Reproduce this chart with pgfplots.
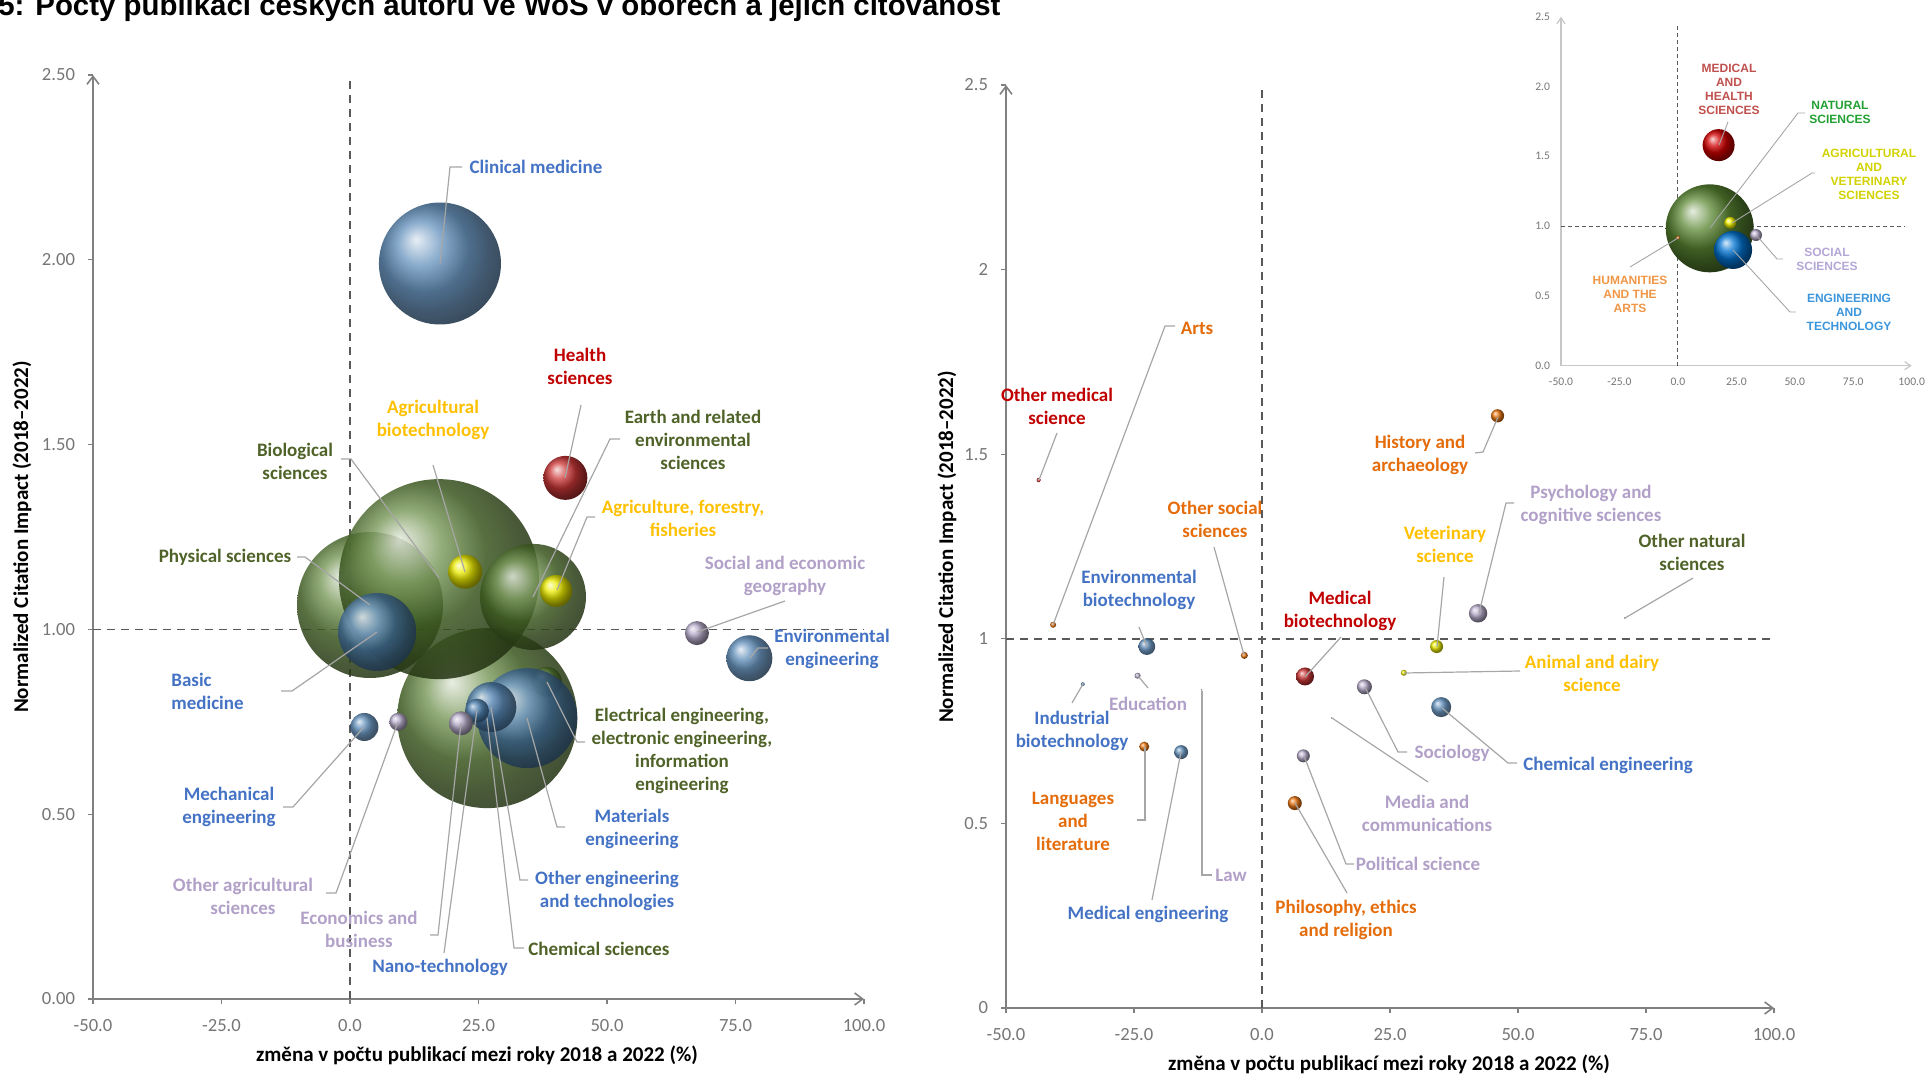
\documentclass[border=0pt]{standalone}
\usepackage{pgfplots}
\pgfplotsset{compat=1.18}
\usepackage{pgfplotstable}
\usepackage{fontspec}
\setmainfont{Carlito}
\newfontfamily\arialfont{Liberation Sans}
\usetikzlibrary{arrows.meta}

\definecolor{lgreen}{RGB}{79,98,40}
\definecolor{lblue}{RGB}{68,114,196}
\definecolor{lyellow}{RGB}{255,192,0}
\definecolor{lred}{RGB}{192,0,0}
\definecolor{lpurple}{RGB}{177,160,199}
\definecolor{lorange}{RGB}{228,108,10}
\definecolor{axisgray}{RGB}{128,128,128}
\definecolor{tickgray}{RGB}{118,118,118}
\definecolor{leader}{RGB}{166,166,166}
\definecolor{dashgray}{RGB}{89,89,89}
\definecolor{bgreen}{RGB}{84,124,44}
\definecolor{bblue}{RGB}{76,128,178}
\definecolor{byellow}{RGB}{235,235,0}
\definecolor{bred}{RGB}{205,55,55}
\definecolor{bpurple}{RGB}{185,175,205}
\definecolor{borange}{RGB}{232,118,20}
\definecolor{igreen}{RGB}{90,135,50}
\definecolor{ired}{RGB}{210,0,0}
\definecolor{iblue}{RGB}{0,115,210}
\definecolor{iyellow}{RGB}{245,245,0}

\newcommand\defball[3]{\pgfdeclareplotmark{#1}{\shade[ball color=#2,opacity=#3,draw=none] (0pt,0pt) circle[radius=\pgfplotmarksize];}}
\defball{ballgreen}{bgreen}{0.85}
\defball{ballblue}{bblue}{0.88}
\defball{ballyellow}{byellow}{1}
\defball{ballred}{bred}{1}
\defball{ballpurple}{bpurple}{1}
\defball{ballorange}{borange}{1}
\defball{ballgray}{leader}{1}
\defball{iballgreen}{igreen}{1}
\defball{iballred}{ired}{1}
\defball{iballblue}{iblue}{1}
\defball{iballyellow}{iyellow}{1}

% ---------- data: x = change (%), y = NCI, r = bubble radius (pt)
\pgfplotstableread{
name x y r
Chemical 26.7 0.760 45
Physical 3.9 1.066 36.5
Biological 17.3 1.136 50
Earth 35.6 1.088 26.5
Electrical 38.3 0.858 7.5
}\Lgreen
\pgfplotstableread{
name x y r
BasicMedicine 5.3 0.993 19.5
Materials 34.5 0.760 25
OtherEng 27.5 0.790 12.5
Nano 24.7 0.780 6
Mechanical 2.8 0.736 7
EnvEng 77.7 0.922 11.5
Clinical 17.5 1.990 30.5
}\Lblue
\pgfplotstableread{
name x y r
AgriBiotech 22.4 1.156 8.5
AgriForestry 40.1 1.104 8
}\Lyellow
\pgfplotstableread{
name x y r
Health 41.9 1.410 11
}\Lred
\pgfplotstableread{
name x y r
OtherAgri 9.4 0.750 4.5
Economics 21.6 0.746 6
SocGeog 67.5 0.990 6
}\Lpurple

\pgfplotstableread{
name x y r
Arts -40.8 1.038 1.5
OtherSocial -3.45 0.955 1.75
Languages -23.0 0.708 2.5
Philosophy 6.4 0.555 3.5
History 46.0 1.604 3.3
}\Rorange
\pgfplotstableread{
name x y r
OtherMedical -43.6 1.430 1.1
MedBiotech 8.4 0.898 4.5
}\Rred
\pgfplotstableread{
name x y r
EnvBiotech -22.5 0.979 4.2
Industrial -35.0 0.877 1
MedEng -15.8 0.693 3.5
ChemEng 35.0 0.815 5
}\Rblue
\pgfplotstableread{
name x y r
Education -24.3 0.900 1.5
Sociology 20.0 0.870 3.75
Political 8.07 0.683 3.25
Psychology 42.2 1.069 4.6
}\Rpurple
\pgfplotstableread{
name x y r
Law -11.8 0.861 0.4
Media 13.6 0.785 0.4
OtherNatural 70.9 1.056 0.5
}\Rgray
\pgfplotstableread{
name x y r
Veterinary 34.1 0.979 3.25
Animal 27.7 0.908 1.5
}\Ryellow

\pgfplotstableread{
name x y r
Natural 13.6 0.984 22
}\Igreen
\pgfplotstableread{
name x y r
Medical 17.4 1.580 8
}\Ired
\pgfplotstableread{
name x y r
Engineering 23.6 0.829 9.5
}\Iblue
\pgfplotstableread{
name x y r
Agricultural 22.4 1.024 3
}\Iyellow
\pgfplotstableread{
name x y r
Social 33.4 0.936 3
}\Ipurple
\pgfplotstableread{
name x y r
Humanities 0.0 0.917 1
}\Iorange

\pgfplotsset{
 mainaxis/.style={
  scale only axis, axis lines=left, clip=false,
  xmin=-50, xmax=100, ymin=0, ymax=2.5,
  axis line style={draw=axisgray, line width=0.8pt, -{Straight Barb[length=4pt,width=6pt]}},
  xtick={-50,-25,0,25,50,75,100},
  xticklabels={-50.0,-25.0,0.0,25.0,50.0,75.0,100.0},
  ytick={0,0.5,1,1.5,2,2.5},
  tick style={draw=axisgray, line width=0.6pt},
  tick align=outside, major tick length=2.5pt,
  ticklabel style={font=\fontsize{9.3}{10}\selectfont, text=tickgray},
  xticklabel style={yshift=-4pt},
  yticklabel style={xshift=-3pt},
 },
 refline/.style={dashgray, line width=0.8pt, dash pattern=on 4pt off 3pt, forget plot},
 bubbles/.style={scatter, only marks, forget plot,
  scatter/use mapped color={draw=none, fill=none},
  visualization depends on={\thisrow{r}\as\perpointmarksize},
  scatter/@pre marker code/.append style={/tikz/mark size=\perpointmarksize}},
}

\tikzset{
 lab/.style={font=\bfseries\fontsize{9.5}{11.5}\selectfont, align=center, inner sep=0pt},
 ilab/.style={font=\arialfont\bfseries\fontsize{6}{7}\selectfont, align=center, inner sep=0pt},
 ld/.style={draw=leader, line width=0.6pt},
 ild/.style={draw=leader, line width=0.45pt},
}

\begin{document}
\begin{tikzpicture}
\useasboundingbox (0,0) rectangle (963.5pt,536.5pt);

% ================= left chart
\begin{axis}[mainaxis, at={(46.5pt,37pt)}, anchor=south west,
  width=385.5pt, height=462pt,
  yticklabels={0.00,0.50,1.00,1.50,2.00,2.50}]
 \addplot[refline] coordinates {(0,0) (0,2.5)};
 \addplot[refline] coordinates {(-50,1) (100,1)};
 \addplot[bubbles, mark=ballgreen] table[x=x,y=y] {\Lgreen};
 \addplot[bubbles, mark=ballblue] table[x=x,y=y] {\Lblue};
 \addplot[bubbles, mark=ballyellow] table[x=x,y=y] {\Lyellow};
 \addplot[bubbles, mark=ballred] table[x=x,y=y] {\Lred};
 \addplot[bubbles, mark=ballpurple] table[x=x,y=y] {\Lpurple};
\end{axis}

% ================= right chart
\begin{axis}[mainaxis, at={(503pt,32.5pt)}, anchor=south west,
  width=384pt, height=461.5pt,
  yticklabels={0,0.5,1,1.5,2,2.5}]
 \addplot[refline] coordinates {(0,0) (0,2.5)};
 \addplot[refline] coordinates {(-50,1) (100,1)};
 \addplot[bubbles, mark=ballgray] table[x=x,y=y] {\Rgray};
 \addplot[bubbles, mark=ballorange] table[x=x,y=y] {\Rorange};
 \addplot[bubbles, mark=ballred] table[x=x,y=y] {\Rred};
 \addplot[bubbles, mark=ballblue] table[x=x,y=y] {\Rblue};
 \addplot[bubbles, mark=ballpurple] table[x=x,y=y] {\Rpurple};
 \addplot[bubbles, mark=ballyellow] table[x=x,y=y] {\Ryellow};
\end{axis}

% ================= inset
\begin{axis}[scale only axis, axis lines=left, clip=false,
  at={(780.5pt,353.65pt)}, anchor=south west, width=175.35pt, height=174.5pt,
  xmin=-50, xmax=100, ymin=0, ymax=2.5,
  axis line style={draw=black!22, line width=0.6pt, -{Straight Barb[length=3pt,width=4pt]}},
  xtick={-50,-25,0,25,50,75,100},
  xticklabels={-50.0,-25.0,0.0,25.0,50.0,75.0,100.0},
  ytick={0,0.5,1,1.5,2,2.5},
  yticklabels={0.0,0.5,1.0,1.5,2.0,2.5},
  major tick length=0pt,
  ticklabel style={font=\fontsize{5.8}{6.5}\selectfont, text=tickgray},
  xticklabel style={yshift=-2.5pt},
  yticklabel style={xshift=-2pt}]
 \addplot[dashgray, line width=0.5pt, dash pattern=on 2pt off 1.5pt, forget plot] coordinates {(0,0) (0,2.45)};
 \addplot[dashgray, line width=0.5pt, dash pattern=on 2pt off 1.5pt, forget plot] coordinates {(-50,1) (97,1)};
 \addplot[bubbles, mark=iballgreen] table[x=x,y=y] {\Igreen};
 \addplot[bubbles, mark=iballred] table[x=x,y=y] {\Ired};
 \addplot[bubbles, mark=iballblue] table[x=x,y=y] {\Iblue};
 \addplot[bubbles, mark=iballyellow] table[x=x,y=y] {\Iyellow};
 \addplot[bubbles, mark=ballpurple] table[x=x,y=y] {\Ipurple};
 \addplot[bubbles, mark=ballorange] table[x=x,y=y] {\Iorange};
\end{axis}

% ================= annotations (pixel coordinates of the 1927x1073 frame)
\begin{scope}[x=0.5pt, y=-0.5pt, yshift=536.5pt]
 \node[anchor=base west, inner sep=0pt, font=\arialfont\bfseries\fontsize{14.7}{16}\selectfont]
   at (-2,16) {5: Počty publikací českých autorů ve WoS v oborech a jejich citovanost};

 \node[rotate=90, font=\bfseries\fontsize{10.5}{12}\selectfont, inner sep=0pt] at (22,537) {Normalized Citation Impact (2018–2022)};
 \node[rotate=90, font=\bfseries\fontsize{10.5}{12}\selectfont, inner sep=0pt] at (947,547) {Normalized Citation Impact (2018–2022)};
 \node[font=\bfseries\fontsize{10.5}{12}\selectfont, inner sep=0pt] at (477,1055) {změna v počtu publikací mezi roky 2018 a 2022 (\%)};
 \node[font=\bfseries\fontsize{10.5}{12}\selectfont, inner sep=0pt] at (1389,1064) {změna v počtu publikací mezi roky 2018 a 2022 (\%)};

 % ---- left leaders
 \draw[ld] (440,264) -- (450,167) -- (462,167);
 \draw[ld] (565,478) -- (581,405);
 \draw[ld] (465,572) -- (433,465);
 \draw[ld] (341,459) -- (351,459) -- (439,578);
 \draw[ld] (533,597) -- (610,439) -- (620,439);
 \draw[ld] (557,590) -- (587,517) -- (595,517);
 \draw[ld] (297,557) -- (305,557) -- (370,605);
 \draw[ld] (697,632) -- (785,601);
 \draw[ld] (750,658) -- (758,648) -- (768,648);
 \draw[ld] (377,632) -- (292,691) -- (281,691);
 \draw[ld] (364,727) -- (293,807) -- (283,807);
 \draw[ld] (547,682) -- (577,742) -- (585,742);
 \draw[ld] (527,718) -- (557,827) -- (565,827);
 \draw[ld] (491,707) -- (520,880) -- (528,880);
 \draw[ld] (487,718) -- (514,948) -- (524,948);
 \draw[ld] (477,710) -- (444,953);
 \draw[ld] (461,723) -- (438,935) -- (430,935);
 \draw[ld] (398,722) -- (336,893) -- (326,893);
 % ---- left labels
 \node[lab, text=lblue] at (536,167) {Clinical medicine};
 \node[lab, text=lred] at (580,366.5) {Health\\sciences};
 \node[lab, text=lyellow] at (433,419.5) {Agricultural\\biotechnology};
 \node[lab, text=lgreen] at (295,461.5) {Biological\\sciences};
 \node[lab, text=lgreen] at (693,440) {Earth and related\\environmental\\sciences};
 \node[lab, text=lyellow] at (683,518) {Agriculture, forestry,\\fisheries};
 \node[lab, text=lgreen] at (225,557) {Physical sciences};
 \node[lab, text=lpurple] at (785,575.5) {Social and economic\\geography};
 \node[lab, text=lblue] at (832,648.5) {Environmental\\engineering};
 \node[lab, text=lblue, align=left, anchor=west] at (171,691.5) {Basic\\medicine};
 \node[lab, text=lblue] at (229,806.5) {Mechanical\\engineering};
 \node[lab, text=lgreen] at (682,751) {Electrical engineering,\\electronic engineering,\\information\\engineering};
 \node[lab, text=lblue] at (632,829) {Materials\\engineering};
 \node[lab, text=lblue] at (607,891) {Other engineering\\and technologies};
 \node[lab, text=lgreen] at (599,949) {Chemical sciences};
 \node[lab, text=lblue] at (440,967) {Nano-technology};
 \node[lab, text=lpurple] at (359,929) {Economics and\\business};
 \node[lab, text=lpurple] at (243,896.5) {Other agricultural\\sciences};

 % ---- right leaders
 \draw[ld] (1053,625) -- (1165,326) -- (1175,326);
 \draw[ld] (1039,480) -- (1057,433);
 \draw[ld] (1244,655) -- (1214,547);
 \draw[ld] (1147,647) -- (1139,627);
 \draw[ld] (1138,676) -- (1148,688);
 \draw[ld] (1083,684) -- (1072,703);
 \draw[ld] (1145,747) -- (1145,820) -- (1137,820);
 \draw[ld] (1181,752) -- (1152,900);
 \draw[ld] (1202,691) -- (1202,875) -- (1212,875);
 \draw[ld] (1305,677) -- (1341,637);
 \draw[ld] (1332,718) -- (1428,782);
 \draw[ld] (1365,687) -- (1398,752) -- (1407,752);
 \draw[ld] (1304,756) -- (1346,864) -- (1354,864);
 \draw[ld] (1295,803) -- (1347,893);
 \draw[ld] (1442,708) -- (1508,763) -- (1517,763);
 \draw[ld] (1404,673) -- (1520,671);
 \draw[ld] (1437,647) -- (1444,577);
 \draw[ld] (1479,613) -- (1506,503) -- (1514,503);
 \draw[ld] (1498,417) -- (1483,452) -- (1475,453);
 \draw[ld] (1625,618) -- (1693,578);
 % ---- right labels
 \node[lab, text=lorange] at (1197,328) {Arts};
 \node[lab, text=lred] at (1057,406.5) {Other medical\\science};
 \node[lab, text=lorange] at (1215,519) {Other social\\sciences};
 \node[lab, text=lblue] at (1139,589.5) {Environmental\\biotechnology};
 \node[lab, text=lpurple] at (1148,704) {Education};
 \node[lab, text=lblue] at (1072,731) {Industrial\\biotechnology};
 \node[lab, text=lorange] at (1073,821) {Languages\\and\\literature};
 \node[lab, text=lblue] at (1148,914) {Medical engineering};
 \node[lab, text=lpurple] at (1231,875) {Law};
 \node[lab, text=lred] at (1340,610.5) {Medical\\biotechnology};
 \node[lab, text=lpurple] at (1427,813) {Media and\\communications};
 \node[lab, text=lpurple] at (1452,753) {Sociology};
 \node[lab, text=lpurple] at (1418,864) {Political science};
 \node[lab, text=lorange] at (1346,920) {Philosophy, ethics\\and religion};
 \node[lab, text=lblue] at (1608,765) {Chemical engineering};
 \node[lab, text=lyellow] at (1592,673) {Animal and dairy\\science};
 \node[lab, text=lyellow] at (1445,544.5) {Veterinary\\science};
 \node[lab, text=lpurple] at (1591,505) {Psychology and\\cognitive sciences};
 \node[lab, text=lorange] at (1420,454.5) {History and\\archaeology};
 \node[lab, text=lgreen] at (1692,552.5) {Other natural\\sciences};

 % ---- inset leaders and labels
 \draw[ild] (1719,145) -- (1728,122);
 \draw[ild] (1710,228) -- (1798,113) -- (1805,113);
 \draw[ild] (1732,223) -- (1812,173) -- (1815,173);
 \draw[ild] (1757,236) -- (1777,259) -- (1783,259);
 \draw[ild] (1733,250) -- (1790,312) -- (1796,312);
 \draw[ild] (1678,238) -- (1630,267);
 \node[ilab, text={rgb,255:red,192;green,80;blue,77}] at (1729,89) {MEDICAL\\AND\\HEALTH\\SCIENCES};
 \node[ilab, text={rgb,255:red,34;green,160;blue,50}] at (1840,112.5) {NATURAL\\SCIENCES};
 \node[ilab, text={rgb,255:red,210;green,210;blue,0}] at (1869,174) {AGRICULTURAL\\AND\\VETERINARY\\SCIENCES};
 \node[ilab, text={rgb,255:red,180;green,167;blue,214}] at (1827,259) {SOCIAL\\SCIENCES};
 \node[ilab, text={rgb,255:red,60;green,150;blue,220}] at (1849,312.5) {ENGINEERING\\AND\\TECHNOLOGY};
 \node[ilab, text={rgb,255:red,240;green,150;blue,70}] at (1630,294) {HUMANITIES\\AND THE\\ARTS};
\end{scope}
\end{tikzpicture}
\end{document}
